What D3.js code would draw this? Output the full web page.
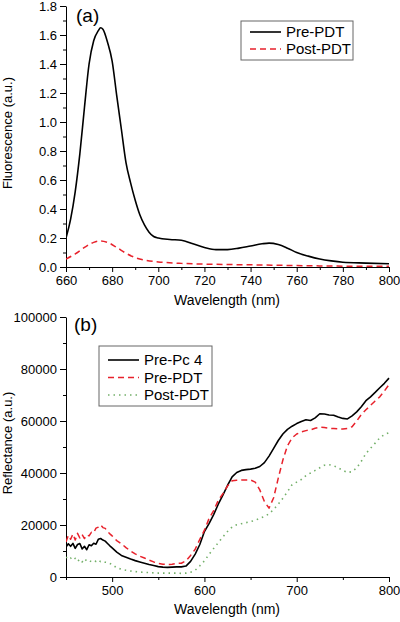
<!DOCTYPE html>
<html><head><meta charset="utf-8">
<script src="https://cdn.jsdelivr.net/npm/d3@7"></script>
<style>body{margin:0;background:#fff}svg{display:block}text{font-family:"Liberation Sans",Arial,sans-serif}</style>
</head><body>
<svg id="c" width="400" height="622"></svg>
<script>
// Panel (a) fluorescence
const waveA = [660,662,664,666,668,670,672,674,675,676,678,680,682,684,686,688,690,692,694,696,698,700,705,710,715,720,725,730,735,740,745,748,752,756,760,765,770,775,780,790,800];
const prePDT_A = [0.20,0.33,0.52,0.78,1.10,1.40,1.56,1.63,1.65,1.64,1.55,1.42,1.18,0.95,0.72,0.58,0.46,0.36,0.29,0.24,0.21,0.20,0.19,0.185,0.16,0.135,0.12,0.12,0.13,0.145,0.16,0.165,0.155,0.13,0.10,0.075,0.055,0.042,0.033,0.027,0.022];
const waveA2 = [660,664,668,672,675,678,682,686,690,695,700,710,720,740,760,780,800];
const postPDT_A = [0.055,0.09,0.135,0.17,0.18,0.17,0.135,0.095,0.065,0.045,0.035,0.025,0.02,0.015,0.01,0.006,0.005];
const ticksAx = [660,680,700,720,740,760,780,800];
const ticksAy = [0.0,0.2,0.4,0.6,0.8,1.0,1.2,1.4,1.6,1.8];

// Panel (b) reflectance
const waveB = [450,452.5,455,457.5,460,462.5,465,467.5,470,472.5,475,477.5,480,482.5,485,487.5,490,492.5,495,497.5,500,505,510,515,520,525,530,535,540,545,550,555,560,565,570,575,580,585,590,595,600,605,610,615,620,625,630,635,640,645,650,655,660,665,670,675,680,685,690,695,700,705,710,715,720,725,730,735,740,745,750,755,760,765,770,775,780,785,790,795,800];
const prePc4 = [11500,12800,11800,12900,11000,12500,12900,10800,11800,10500,12400,12000,13000,12600,14500,14800,14200,13800,12900,12000,11200,9600,8300,7600,6900,6300,5800,5300,4800,4400,4000,3800,3700,3800,3900,3900,4200,6000,8800,12500,17500,20500,24000,28000,31500,35200,38500,40200,41000,41300,41500,41800,42500,44000,46500,49500,52500,55000,56800,58000,59000,59800,60500,60200,61200,62800,62700,62300,62200,61500,61000,60800,62000,63500,65500,67800,69300,71000,72800,74500,76500];
const prePDT_B = [13500,16000,14500,16500,14200,16800,15000,16300,14800,16200,15800,17200,17000,18800,19200,20000,19000,18700,17500,16600,15800,14000,12800,11300,10000,8900,8000,7300,6500,5800,5200,4900,4800,4900,5200,5300,6200,8300,10700,14500,18000,22500,25500,29500,32000,35000,37000,37200,37300,37300,37300,36500,33500,29000,26500,30500,38000,45000,50500,53500,55000,55800,56300,56600,57200,57600,57500,57200,57100,57000,56900,57100,57800,60000,62500,64300,66000,67700,69300,71500,74000];
const postPDT_B = [7700,6800,7300,6500,7200,6000,6800,5800,7000,6200,6500,5800,6200,6000,6600,5900,6000,5700,5600,5200,4800,3500,3000,2600,2300,2100,1900,1800,1700,1600,1500,1500,1500,1500,1500,1400,1500,1800,2600,4300,6200,8700,11000,13200,15400,17500,19200,20100,20500,20900,21300,21800,22600,23300,24300,26000,28000,30300,32800,35500,36500,37500,39000,40000,41000,42000,43000,43200,42800,42000,41000,40200,40500,42000,44500,47500,49500,51500,53500,54800,55500];
const ticksBx = [500,600,700,800];
const ticksBy = [0,20000,40000,60000,80000,100000];

const svg = d3.select("#c");
const font = '"Liberation Sans",Arial,sans-serif';

function panel(o){
  const g = svg.append("g");
  const x = d3.scaleLinear().domain(o.xd).range([66,389]);
  const y = d3.scaleLinear().domain(o.yd).range([o.y0,o.y1]);
  const xa = d3.axisBottom(x).tickValues(o.xmin).tickSize(3).tickFormat("");
  g.append("g").attr("transform",`translate(0,${o.y0})`).call(xa).call(s=>s.select(".domain").remove());
  const ya = d3.axisLeft(y).tickValues(o.ymin).tickSize(3).tickFormat("");
  g.append("g").attr("transform",`translate(66,0)`).call(ya).call(s=>s.select(".domain").remove());
  const xA = d3.axisBottom(x).tickValues(o.xt).tickSize(5).tickSizeOuter(0).tickPadding(4).tickFormat(d3.format("d"));
  const gx = g.append("g").attr("transform",`translate(0,${o.y0})`).call(xA);
  gx.selectAll("text").attr("font-size",13).attr("font-family",font).attr("fill","#000");
  const yA = d3.axisLeft(y).tickValues(o.yt).tickSize(6).tickSizeOuter(0).tickPadding(3).tickFormat(o.yf);
  const gy = g.append("g").attr("transform",`translate(66,0)`).call(yA);
  gy.selectAll("text").attr("font-size",13).attr("font-family",font).attr("fill","#000");
  g.selectAll(".domain,.tick line").attr("stroke","#000");
  g.append("text").attr("x",227).attr("y",o.xty).attr("text-anchor","middle").attr("font-size",14).text("Wavelength (nm)");
  g.append("text").attr("transform",`translate(12,${o.ytc}) rotate(-90)`).attr("text-anchor","middle").attr("font-size",13).text(o.ytitle);
  g.append("text").attr("x",o.lbx).attr("y",o.lby).attr("font-size",19).text(o.label);
  const clip = "clip"+o.label.replace(/\W/g,"");
  svg.append("clipPath").attr("id",clip).append("rect").attr("x",66).attr("y",o.y1-2).attr("width",324).attr("height",o.y0-o.y1+2);
  o.series.forEach(s=>{
    const line = d3.line().x((d,i)=>x(s.x[i])).y(d=>y(d)).curve(o.curve);
    g.append("path").datum(s.v).attr("d",line).attr("fill","none").attr("stroke",s.c)
      .attr("stroke-width",s.w).attr("stroke-dasharray",s.dash).attr("stroke-linejoin","round")
      .attr("clip-path",`url(#${clip})`);
  });
  const L = o.leg;
  g.append("rect").attr("x",L.x).attr("y",L.y).attr("width",L.w).attr("height",L.h).attr("fill","#fff").attr("stroke","#666").attr("stroke-width",1);
  o.series.forEach((s,i)=>{
    const yy = L.y + L.first + i*L.dy;
    g.append("line").attr("x1",L.x+9).attr("x2",L.x+40).attr("y1",yy).attr("y2",yy).attr("stroke",s.c).attr("stroke-width",s.w).attr("stroke-dasharray",s.dash);
    g.append("text").attr("x",L.x+45).attr("y",yy+5).attr("font-size",15).text(s.name);
  });
}

panel({
  xd:[660,800], yd:[0,1.8], y0:267, y1:6, curve:d3.curveMonotoneX,
  xt:ticksAx, xmin:[670,690,710,730,750,770,790], yt:ticksAy, ymin:[0.1,0.3,0.5,0.7,0.9,1.1,1.3,1.5,1.7], yf:d3.format(".1f"),
  xty:305, ytitle:"Fluorescence (a.u.)", ytc:133, label:"(a)", lbx:76, lby:22,
  series:[
    {name:"Pre-PDT", x:waveA, v:prePDT_A, c:"#000", w:1.6, dash:null},
    {name:"Post-PDT", x:waveA2, v:postPDT_A, c:"#e8222c", w:1.5, dash:"6,4"}
  ],
  leg:{x:241,y:21,w:112,h:39,first:11,dy:17}
});

panel({
  xd:[450,800], yd:[0,100000], y0:577, y1:317, curve:d3.curveLinear,
  xt:ticksBx, xmin:[450,550,650,750], yt:ticksBy, ymin:[10000,30000,50000,70000,90000], yf:d3.format("d"),
  xty:614, ytitle:"Reflectance (a.u.)", ytc:443, label:"(b)", lbx:74, lby:331,
  series:[
    {name:"Pre-Pc 4", x:waveB, v:prePc4, c:"#000", w:1.6, dash:null},
    {name:"Pre-PDT", x:waveB, v:prePDT_B, c:"#e8222c", w:1.5, dash:"6,4"},
    {name:"Post-PDT", x:waveB, v:postPDT_B, c:"#74b06a", w:1.6, dash:"1.5,4"}
  ],
  leg:{x:99,y:346,w:113,h:60,first:14,dy:17.5}
});
</script>
</body></html>
